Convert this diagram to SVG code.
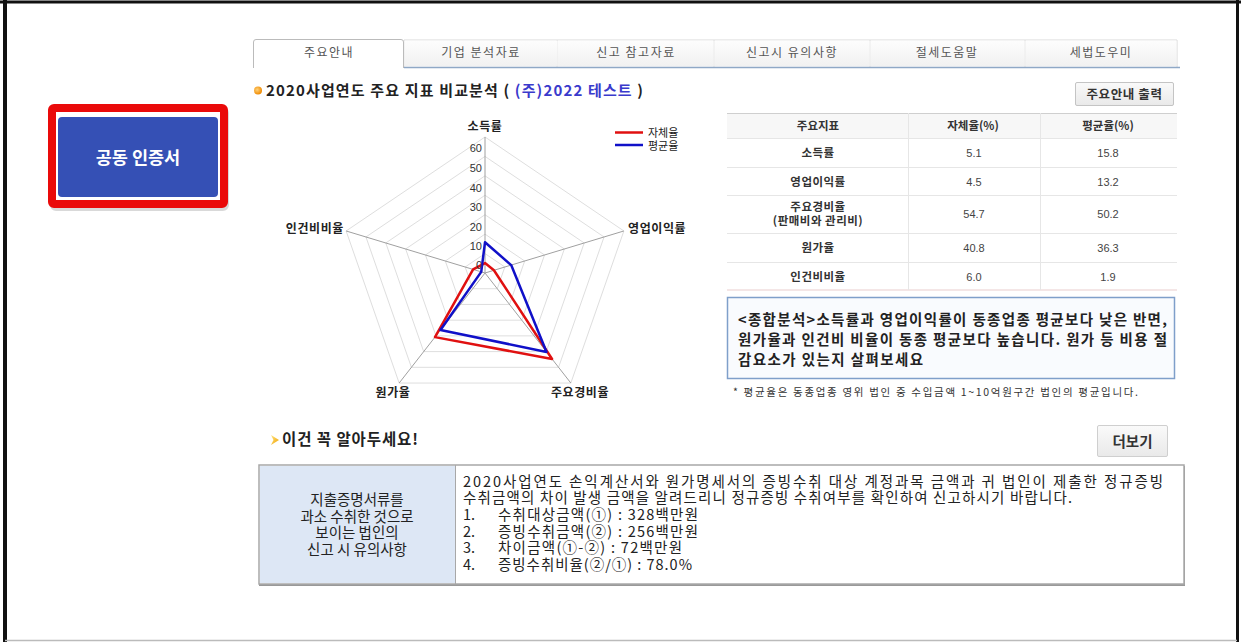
<svg xmlns="http://www.w3.org/2000/svg" width="1241" height="642" viewBox="0 0 1241 642">
<defs>
<style>
text{font-family:"Noto Sans CJK KR","Noto Sans",sans-serif;}
.tab{font-size:12px;fill:#555;text-anchor:middle;letter-spacing:1.5px;}
.lbl{font-size:12px;font-weight:bold;fill:#222;letter-spacing:0.6px;}
.tick{font-size:11px;fill:#333;text-anchor:end;font-family:"Liberation Sans",Arial,sans-serif;}
.th{font-size:11.5px;font-weight:bold;fill:#333;text-anchor:middle;}
.td{font-size:11px;fill:#444;text-anchor:middle;font-family:"Liberation Sans",Arial,sans-serif;}
.tl{font-size:11.5px;font-weight:bold;fill:#333;text-anchor:middle;letter-spacing:0.5px;}
.sum{font-size:14.5px;font-weight:bold;fill:#222;}
.body{font-size:14.5px;fill:#222;}
.grid{fill:none;stroke:#dedede;stroke-width:1;vector-effect:non-scaling-stroke;}
.axis{stroke:#a0a0a0;stroke-width:1;vector-effect:non-scaling-stroke;}
.tline{stroke:#e6e6e6;stroke-width:1;}
</style>
<linearGradient id="tabg" x1="0" y1="0" x2="0" y2="1"><stop offset="0" stop-color="#fdfdfd"/><stop offset="1" stop-color="#f1f1f1"/></linearGradient>
<linearGradient id="btng" x1="0" y1="0" x2="0" y2="1"><stop offset="0" stop-color="#fafafa"/><stop offset="1" stop-color="#e9e9e9"/></linearGradient>
<radialGradient id="dot" cx="0.4" cy="0.4" r="0.6"><stop offset="0" stop-color="#ffd27a"/><stop offset="1" stop-color="#f08a00"/></radialGradient>
<linearGradient id="arr" x1="0" y1="0" x2="1" y2="1"><stop offset="0" stop-color="#ffe680"/><stop offset="1" stop-color="#f0a000"/></linearGradient>
</defs>
<rect x="0" y="0" width="1241" height="642" fill="#fff"/>
<g id="frame">
<line x1="5" y1="0" x2="5" y2="642" stroke="#111" stroke-width="4"/>
<line x1="0" y1="2" x2="1241" y2="2" stroke="#111" stroke-width="3"/>
<line x1="1237.5" y1="0" x2="1237.5" y2="642" stroke="#111" stroke-width="3"/>
<line x1="5" y1="640.5" x2="1237" y2="640.5" stroke="#bbb" stroke-width="1.5"/>
</g>
<g id="cert-button">
<rect x="53" y="109" width="171" height="96" rx="2" fill="none" stroke="#000" stroke-opacity="0.15" stroke-width="8" transform="translate(1,2)"/>
<rect x="52" y="108" width="172" height="96" rx="2" fill="#fff" stroke="#ea0a0a" stroke-width="8"/>
<rect x="58" y="117" width="160" height="80" rx="4" fill="#3550b5"/>
<text x="138" y="164" font-size="17.5" font-weight="bold" fill="#fff" text-anchor="middle">공동 인증서</text>
</g>
<g id="tabs">
<path d="M404,67 V40 H557 V67 M557,40 H714 V67 M714,40 H870 V67 M870,40 H1025 V67 M1025,40 H1177 V67" fill="none" stroke="#d8d8d8"/>
<rect x="404.5" y="40.5" width="152.5" height="26" fill="url(#tabg)"/>
<rect x="557.5" y="40.5" width="156" height="26" fill="url(#tabg)"/>
<rect x="714.5" y="40.5" width="155" height="26" fill="url(#tabg)"/>
<rect x="870.5" y="40.5" width="154" height="26" fill="url(#tabg)"/>
<rect x="1025.5" y="40.5" width="151" height="26" fill="url(#tabg)"/>
<line x1="404" y1="67.5" x2="1180" y2="67.5" stroke="#8fa8c6" stroke-width="1.5"/>
<path d="M253.5,68 V42 Q253.5,39.5 256,39.5 H401 Q403.5,39.5 403.5,42 V68" fill="#fff" stroke="#bbb"/>
<text class="tab" x="329" y="57">주요안내</text>
<text class="tab" x="481" y="57">기업 분석자료</text>
<text class="tab" x="636" y="57">신고 참고자료</text>
<text class="tab" x="792" y="57">신고시 유의사항</text>
<text class="tab" x="947" y="57">절세도움말</text>
<text class="tab" x="1101" y="57">세법도우미</text>
</g>
<g id="title">
<circle cx="258" cy="90.5" r="4" fill="url(#dot)"/>
<text x="266" y="96" font-size="15" font-weight="bold" fill="#222" textLength="377" lengthAdjust="spacing">2020사업연도 주요 지표 비교분석 ( <tspan fill="#3a3acc">(주)2022 테스트</tspan> )</text>
</g>
<g id="print-button">
<rect x="1075.5" y="82.5" width="98" height="23" rx="1.5" fill="url(#btng)" stroke="#c4c4c4"/>
<text x="1124.5" y="98.5" font-size="12.5" font-weight="bold" fill="#333" text-anchor="middle" letter-spacing="0.6">주요안내 출력</text>
</g>
<g id="radar-chart">
<g transform="translate(485,273) scale(2.086,1.943)">
<polygon class="grid" points="0,-10 9.511,-3.09 5.878,8.09 -5.878,8.09 -9.511,-3.09"/>
<polygon class="grid" points="0,-20 19.021,-6.18 11.756,16.18 -11.756,16.18 -19.021,-6.18"/>
<polygon class="grid" points="0,-30 28.532,-9.27 17.634,24.27 -17.634,24.27 -28.532,-9.27"/>
<polygon class="grid" points="0,-40 38.042,-12.36 23.512,32.36 -23.512,32.36 -38.042,-12.36"/>
<polygon class="grid" points="0,-50 47.553,-15.45 29.39,40.45 -29.39,40.45 -47.553,-15.45"/>
<polygon class="grid" points="0,-60 57.063,-18.54 35.267,48.54 -35.267,48.54 -57.063,-18.54"/>
<polygon class="grid" points="0,-70 66.574,-21.63 41.145,56.63 -41.145,56.63 -66.574,-21.63"/>
<line class="axis" x1="0" y1="0" x2="0" y2="-70"/>
<line class="axis" x1="0" y1="0" x2="66.574" y2="-21.63"/>
<line class="axis" x1="0" y1="0" x2="41.145" y2="56.63"/>
<line class="axis" x1="0" y1="0" x2="-41.145" y2="56.63"/>
<line class="axis" x1="0" y1="0" x2="-66.574" y2="-21.63"/>
<polygon points="0,-5.1 4.28,-1.391 32.153,44.252 -23.98,33.007 -5.707,-1.854" fill="none" stroke="#e01010" stroke-width="2.5" vector-effect="non-scaling-stroke" stroke-linejoin="round"/>
<polygon points="0,-15.8 12.555,-4.079 29.508,40.612 -21.337,29.367 -1.807,-0.587" fill="none" stroke="#1010c8" stroke-width="2.5" vector-effect="non-scaling-stroke" stroke-linejoin="round"/>
</g>
<text class="tick" x="482" y="152">60</text>
<text class="tick" x="482" y="172">50</text>
<text class="tick" x="482" y="192">40</text>
<text class="tick" x="482" y="211">30</text>
<text class="tick" x="482" y="231">20</text>
<text class="tick" x="482" y="250">10</text>
<text class="tick" x="482" y="269">0</text>
<text class="lbl" x="485" y="130.5" text-anchor="middle">소득률</text>
<text class="lbl" x="628" y="232.5">영업이익률</text>
<text class="lbl" x="344" y="232.5" text-anchor="end">인건비비율</text>
<text class="lbl" x="393" y="396.5" text-anchor="middle">원가율</text>
<text class="lbl" x="580" y="396.5" text-anchor="middle">주요경비율</text>
<line x1="615" y1="132.5" x2="643" y2="132.5" stroke="#e01010" stroke-width="2.5"/>
<text x="648" y="136.5" font-size="11" fill="#222">자체율</text>
<line x1="615" y1="145" x2="643" y2="145" stroke="#1010c8" stroke-width="2.5"/>
<text x="648" y="150" font-size="11" fill="#222">평균율</text>
</g>
<g id="indicator-table">
<rect x="727" y="113" width="450" height="25" fill="#f7f7f7"/>
<line x1="727" y1="113.5" x2="1177" y2="113.5" stroke="#cfcfcf"/>
<line class="tline" x1="727" y1="138.5" x2="1177" y2="138.5"/>
<line class="tline" x1="727" y1="167.5" x2="1177" y2="167.5"/>
<line class="tline" x1="727" y1="195.5" x2="1177" y2="195.5"/>
<line class="tline" x1="727" y1="233.5" x2="1177" y2="233.5"/>
<line class="tline" x1="727" y1="262.5" x2="1177" y2="262.5"/>
<line x1="727" y1="290" x2="1177" y2="290" stroke="#f0dede" stroke-width="1.5"/>
<line class="tline" x1="908.5" y1="113" x2="908.5" y2="290"/>
<line class="tline" x1="1040.5" y1="113" x2="1040.5" y2="290"/>
<text class="th" x="818" y="130">주요지표</text>
<text class="th" x="973" y="130">자체율(%)</text>
<text class="th" x="1108" y="130">평균율(%)</text>
<text class="tl" x="818" y="157">소득률</text>
<text class="td" x="974" y="157">5.1</text>
<text class="td" x="1108" y="157">15.8</text>
<text class="tl" x="818" y="185.5">영업이익률</text>
<text class="td" x="974" y="185.5">4.5</text>
<text class="td" x="1108" y="185.5">13.2</text>
<text class="tl" x="818" y="210.5">주요경비율</text>
<text class="tl" x="818" y="225">(판매비와 관리비)</text>
<text class="td" x="974" y="218">54.7</text>
<text class="td" x="1108" y="218">50.2</text>
<text class="tl" x="818" y="252">원가율</text>
<text class="td" x="974" y="252">40.8</text>
<text class="td" x="1108" y="252">36.3</text>
<text class="tl" x="818" y="280.5">인건비비율</text>
<text class="td" x="974" y="280.5">6.0</text>
<text class="td" x="1108" y="280.5">1.9</text>
</g>
<g id="summary-box">
<rect x="727.5" y="297.5" width="447" height="81" fill="#f9fbfe" stroke="#7f9fca" stroke-width="1.5"/>
<text class="sum" x="738" y="325" textLength="429" lengthAdjust="spacing">&lt;종합분석&gt;소득률과 영업이익률이 동종업종 평균보다 낮은 반면,</text>
<text class="sum" x="738" y="345" textLength="429" lengthAdjust="spacing">원가율과 인건비 비율이 동종 평균보다 높습니다. 원가 등 비용 절</text>
<text class="sum" x="738" y="365" textLength="185" lengthAdjust="spacing">감요소가 있는지 살펴보세요</text>
<text x="733" y="396" font-size="10.5" fill="#333" textLength="405" lengthAdjust="spacing">* 평균율은 동종업종 영위 법인 중 수입금액 1~10억원구간 법인의 평균입니다.</text>
</g>
<g id="notice-header">
<polygon points="271,435 279,440 271,445 273.5,440" fill="url(#arr)"/>
<text x="282" y="444.5" font-size="15.5" font-weight="bold" fill="#222" textLength="136" lengthAdjust="spacing">이건 꼭 알아두세요!</text>
</g>
<g id="more-button">
<rect x="1097.5" y="425.5" width="70" height="31" rx="1.5" fill="url(#btng)" stroke="#cfcfcf"/>
<text x="1132.5" y="446.5" font-size="14.5" font-weight="bold" fill="#333" text-anchor="middle">더보기</text>
</g>
<g id="notice-box">
<rect x="259" y="466" width="926" height="120" fill="#999"/>
<rect x="259" y="465" width="925" height="119" fill="#fff" stroke="#a8a8a8" stroke-width="1.5"/>
<rect x="260" y="466" width="195" height="117" fill="#dde7f5"/>
<line x1="455.5" y1="465" x2="455.5" y2="584" stroke="#a8a8a8"/>
<text class="body" x="357" y="505" text-anchor="middle" font-size="15">지출증명서류를</text>
<text class="body" x="357" y="521.5" text-anchor="middle" font-size="15">과소 수취한 것으로</text>
<text class="body" x="357" y="538" text-anchor="middle" font-size="15">보이는 법인의</text>
<text class="body" x="357" y="554.5" text-anchor="middle" font-size="15">신고 시 유의사항</text>
<text class="body" x="463" y="487" textLength="700" lengthAdjust="spacing">2020사업연도 손익계산서와 원가명세서의 증빙수취 대상 계정과목 금액과 귀 법인이 제출한 정규증빙</text>
<text class="body" x="463" y="503" textLength="609" lengthAdjust="spacing">수취금액의 차이 발생 금액을 알려드리니 정규증빙 수취여부를 확인하여 신고하시기 바랍니다.</text>
<text class="body" x="463" y="520">1.</text>
<text class="body" x="498" y="520" textLength="200" lengthAdjust="spacing">수취대상금액(①) : 328백만원</text>
<text class="body" x="463" y="536.5">2.</text>
<text class="body" x="498" y="536.5" textLength="200" lengthAdjust="spacing">증빙수취금액(②) : 256백만원</text>
<text class="body" x="463" y="553">3.</text>
<text class="body" x="498" y="553" textLength="184" lengthAdjust="spacing">차이금액(①-②) : 72백만원</text>
<text class="body" x="463" y="569.5">4.</text>
<text class="body" x="498" y="569.5" textLength="194" lengthAdjust="spacing">증빙수취비율(②/①) : 78.0%</text>
</g>
<g id="connectors"></g>
</svg>
